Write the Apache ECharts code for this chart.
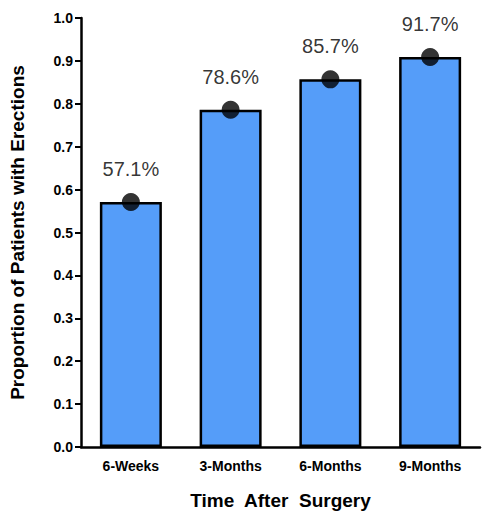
<!DOCTYPE html>
<html><head><meta charset="utf-8">
<script src="https://cdn.jsdelivr.net/npm/echarts@6/dist/echarts.min.js"></script>
<style>html,body{margin:0;padding:0;background:#fff}#c{width:496px;height:521px}</style>
</head><body><div id="c"></div>
<script>
const categories = ['6-Weeks', '3-Months', '6-Months', '9-Months'];
const values = [0.571, 0.786, 0.857, 0.909];
const labels = ['57.1%', '78.6%', '85.7%', '91.7%'];

const chart = echarts.init(document.getElementById('c'), null, {renderer: 'svg'});
chart.setOption({
  animation: false,
  grid: {left: 72, right: 16, top: 18, bottom: 74},
  xAxis: {
    type: 'category', data: categories,
    name: 'Time  After  Surgery', nameLocation: 'middle', nameGap: 44,
    nameTextStyle: {fontFamily: 'Liberation Sans', fontWeight: 'bold', fontSize: 19, color: '#000'},
    axisLine: {lineStyle: {color: '#000', width: 2.5}},
    axisTick: {show: false},
    axisLabel: {fontFamily: 'Liberation Sans', fontWeight: 'bold', fontSize: 14, color: '#000', margin: 12}
  },
  yAxis: {
    type: 'value', min: 0, max: 1, interval: 0.1,
    name: 'Proportion of Patients with Erections', nameLocation: 'middle', nameGap: 54,
    nameTextStyle: {fontFamily: 'Liberation Sans', fontWeight: 'bold', fontSize: 19, color: '#000'},
    splitLine: {show: false},
    axisLine: {show: true, lineStyle: {color: '#000', width: 2.5}},
    axisTick: {show: true, length: 6, lineStyle: {color: '#000', width: 2}},
    axisLabel: {fontFamily: 'Liberation Sans', fontWeight: 'bold', fontSize: 14, color: '#000',
      formatter: v => v.toFixed(1)}
  },
  series: [{
    type: 'bar', data: values, barWidth: 62,
    itemStyle: {color: '#559df9', borderColor: '#000', borderWidth: 2.5}
  }, {
    type: 'scatter', data: values, symbolSize: 18,
    itemStyle: {color: '#000'},
    label: {show: true, position: 'top', distance: 14,
      formatter: p => labels[p.dataIndex],
      fontFamily: 'Liberation Sans', fontSize: 20, color: '#000'}
  }]
});
</script></body></html>
